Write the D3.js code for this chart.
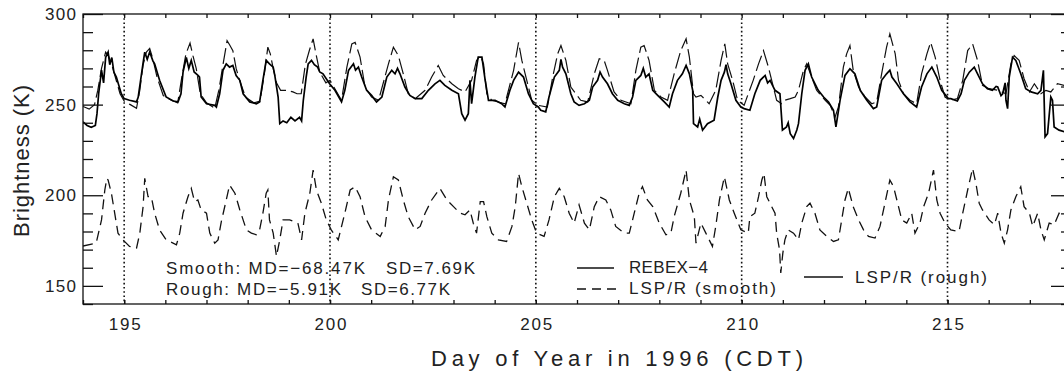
<!DOCTYPE html>
<html>
<head>
<meta charset="utf-8">
<script src="https://cdn.jsdelivr.net/npm/d3@7"></script>
<style>
  body { margin: 0; background: #fff; }
  text { font-family: "Liberation Sans", Arial, sans-serif; fill: #222; }
</style>
</head>
<body>
<div id="chart"></div>
<script>
// REBEX-4 brightness (solid) as [day, K]
const rebexData = [
  [194.00,240.5],[194.10,238.5],[194.20,237.5],[194.30,238.5],[194.34,245],[194.38,256],[194.45,269],[194.50,262],
  [194.55,276],[194.61,279],[194.65,272],[194.70,276],[194.75,268],[194.81,265.2],[194.93,256],[195.00,253.3],
  [195.13,252.4],[195.30,251.5],[195.34,254],[195.46,273],[195.50,278.9],[195.56,275],[195.62,279],[195.70,274],
  [195.74,272.5],[195.86,263.4],[196.02,254.2],[196.19,252.0],[196.31,251.5],[196.38,256],[196.43,267.9],[196.51,276],
  [196.57,270],[196.63,274.4],[196.70,268],[196.80,266],[196.83,265.2],[196.87,254.2],[197.00,250.5],[197.20,249.6],
  [197.24,248.7],[197.32,256],[197.40,268.9],[197.48,272.5],[197.56,270.7],[197.64,271.6],[197.72,266],[197.81,263.4],
  [197.89,256.0],[198.05,251.5],[198.21,250.5],[198.29,251.5],[198.37,263.4],[198.45,274.4],[198.53,272.5],[198.62,270.7],
  [198.66,266],[198.74,254.2],[198.78,239.5],[198.86,241],[198.95,240],[199.05,243],[199.15,241],[199.26,243],
  [199.31,241],[199.35,252],[199.42,265],[199.47,272.5],[199.55,274.4],[199.62,272],[199.70,270.7],[199.75,268],
  [199.83,267.0],[199.99,261.5],[200.12,257.9],[200.28,251.5],[200.36,257.9],[200.45,268.9],[200.57,272.5],[200.62,269],
  [200.69,270.7],[200.77,265.2],[200.89,257.9],[201.01,255.1],[201.13,251.5],[201.26,254.2],[201.38,265.2],[201.50,268.9],
  [201.58,267.0],[201.64,270],[201.70,267.0],[201.82,259.7],[201.94,255.1],[202.07,253.3],[202.23,253.3],[202.39,257.9],
  [202.55,261.5],[202.67,263.4],[202.79,260.6],[202.96,257.9],[203.12,256.0],[203.20,245.0],[203.28,241.4],[203.36,245.0],
  [203.40,263.4],[203.44,250.5],[203.52,265.2],[203.60,276.2],[203.69,276.2],[203.77,263.4],[203.85,252.4],[204.01,252.4],
  [204.17,250.5],[204.25,248.7],[204.37,257.9],[204.46,263.4],[204.58,267.9],[204.70,265.2],[204.82,256.0],[204.94,250.5],
  [205.06,248.7],[205.12,246.9],[205.24,246.0],[205.32,254.2],[205.45,265.2],[205.57,268.9],[205.61,275],[205.65,270.7],
  [205.73,267.0],[205.85,256.0],[205.93,251.5],[206.05,249.6],[206.18,250.5],[206.30,252.4],[206.38,259.7],[206.50,263.4],
  [206.56,268],[206.62,265.2],[206.74,261.5],[206.86,256.0],[206.99,252.4],[207.15,250.5],[207.27,249.6],[207.35,254.2],
  [207.43,263.4],[207.55,266.1],[207.61,270],[207.67,265.2],[207.75,267.0],[207.84,257.9],[207.96,255.1],[208.12,251.5],
  [208.24,248.7],[208.32,256.0],[208.44,263.4],[208.56,267.0],[208.65,271.6],[208.73,267.0],[208.81,257.9],[208.83,239.5],
  [208.93,237.7],[208.98,242],[209.05,235.9],[209.17,239.5],[209.33,241.4],[209.42,254.2],[209.50,263.4],[209.58,267.9],
  [209.62,272],[209.66,267.0],[209.74,261.5],[209.86,252.4],[209.98,248.7],[210.06,247.8],[210.20,246.9],[210.32,256.0],
  [210.45,263.4],[210.57,266.1],[210.63,262],[210.69,263.4],[210.81,257.9],[210.93,256.0],[210.99,235.9],[211.09,237.7],
  [211.13,240],[211.18,234.0],[211.26,231.3],[211.34,236],[211.38,239.5],[211.46,256.0],[211.54,268.9],[211.62,272.5],
  [211.70,265.2],[211.86,257.9],[211.99,254.2],[212.11,251.5],[212.23,246.9],[212.29,237.7],[212.39,252.4],[212.51,266.1],
  [212.63,269.8],[212.75,267.0],[212.88,257.9],[213.04,252.4],[213.20,247.8],[213.28,248.7],[213.40,263.4],[213.52,267.0],
  [213.60,269],[213.65,265.2],[213.77,261.5],[213.93,256.0],[214.09,251.5],[214.25,248.7],[214.37,259.7],[214.50,267.0],
  [214.62,270.7],[214.74,265.2],[214.86,257.9],[215.02,253.3],[215.08,253.3],[215.24,252.0],[215.33,256.0],[215.41,263.4],
  [215.53,267.9],[215.65,270.7],[215.73,267.0],[215.85,261.5],[215.97,258.8],[216.09,257.9],[216.18,260],[216.22,259.7],
  [216.30,255],[216.34,256.0],[216.40,262],[216.42,252.4],[216.46,247.8],[216.50,265.2],[216.58,276.2],[216.66,274.4],
  [216.78,267.0],[216.90,258.8],[217.03,257.0],[217.19,256.0],[217.27,257.9],[217.33,268.9],[217.37,232.2],[217.43,234.0],
  [217.51,254.2],[217.55,252.4],[217.59,237.7],[217.71,235.9],[217.84,235.0],[218.00,236]
];

// LSP/R rough-surface model (upper dashed)
const roughData = [
  [194.00,249],[194.15,247.5],[194.28,250],[194.36,258],[194.45,270],[194.55,279],[194.62,277],[194.70,272],
  [194.80,264],[194.90,256],[195.00,252],[195.15,250],[195.30,248],[195.38,258],[195.46,272],[195.54,279],
  [195.62,281],[195.70,275],[195.80,265],[195.95,255],[196.10,253],[196.30,251],[196.40,265],[196.50,278],
  [196.60,284],[196.67,277],[196.75,270],[196.85,256],[197.00,251],[197.20,248],[197.30,258],[197.40,272],
  [197.50,285.3],[197.56,283],[197.64,279.8],[197.72,270],[197.81,263],[197.95,254],[198.15,251],[198.30,252],
  [198.40,266],[198.49,281.7],[198.55,278],[198.62,270],[198.70,262],[198.80,257.9],[198.95,257.9],[199.10,257],
  [199.20,256],[199.30,256],[199.40,272],[199.50,280],[199.59,286.3],[199.65,279],[199.75,268],[199.90,262],
  [200.00,263.4],[200.28,252.4],[200.41,270.7],[200.53,283.5],[200.61,284.4],[200.73,276.2],[200.85,259.7],[201.01,254.2],
  [201.18,252.4],[201.42,272.5],[201.54,281.7],[201.66,277.1],[201.78,267.0],[201.90,256.0],[202.07,253.3],[202.31,257.9],
  [202.47,265.2],[202.63,271.6],[202.75,266.1],[202.96,261.5],[203.12,258.8],[203.28,257.0],[203.44,263.4],[203.56,274.4],
  [203.65,277.1],[203.73,272.5],[203.81,256.0],[203.93,252.4],[204.25,250.5],[204.46,268.9],[204.58,284.4],[204.66,274.4],
  [204.78,263.4],[204.90,252.4],[205.06,249.6],[205.28,248.7],[205.41,265.2],[205.53,278.0],[205.61,282.6],[205.73,274.4],
  [205.85,259.7],[205.97,256.0],[206.09,252.4],[206.26,251.5],[206.42,267.0],[206.54,275.3],[206.66,274.4],[206.74,268.9],
  [206.90,257.0],[207.07,252.4],[207.31,250.5],[207.43,268.9],[207.55,281.7],[207.63,282.6],[207.75,274.4],[207.88,257.9],
  [208.04,254.2],[208.20,252.4],[208.36,267.0],[208.52,279.8],[208.65,286.3],[208.73,276.2],[208.83,256.0],[208.89,254.2],
  [209.01,255.1],[209.13,252.4],[209.21,250.5],[209.37,257.9],[209.50,274.4],[209.59,283.5],[209.66,272.5],[209.78,263.4],
  [209.90,252.4],[210.06,249.6],[210.16,256.0],[210.28,263.4],[210.41,272.5],[210.53,279.8],[210.65,270.7],[210.77,259.7],
  [210.85,252.4],[210.97,250.5],[211.05,252.4],[211.18,253.3],[211.30,254.2],[211.38,257.9],[211.50,268.9],[211.58,272.5],
  [211.70,265.2],[211.82,257.9],[212.03,252.4],[212.15,249.6],[212.27,243.2],[212.35,248.7],[212.47,270.7],[212.55,278.0],
  [212.63,282.6],[212.71,268.9],[212.84,259.7],[213.00,254.2],[213.16,250.5],[213.28,251.5],[213.40,267.0],[213.52,281.7],
  [213.60,289.0],[213.73,278.0],[213.81,263.4],[213.93,256.0],[214.09,252.4],[214.25,250.5],[214.37,267.0],[214.50,278.0],
  [214.59,284.4],[214.70,276.2],[214.82,263.4],[214.94,254.2],[215.06,252.4],[215.24,253.3],[215.37,263.4],[215.49,279.8],
  [215.61,283.5],[215.73,274.4],[215.85,260.6],[216.01,258.8],[216.22,257.9],[216.42,256.0],[216.54,272.5],[216.62,277.1],
  [216.74,274.4],[216.86,264.3],[216.99,257.0],[217.11,261.5],[217.27,256.0],[217.39,257.9],[217.51,257.0],[217.67,261.5],
  [217.84,260.6],[218.00,260]
];

// LSP/R smooth-surface model (lower dashed)
const smoothData = [
  [194.00,172],[194.32,173.6],[194.45,186.4],[194.53,202.9],[194.58,209.3],[194.61,208.4],[194.69,201.1],[194.77,190.1],
  [194.85,179.1],[194.97,175.4],[195.13,171.8],[195.30,170.8],[195.38,179.1],[195.46,193.7],[195.50,209.3],[195.58,199.2],
  [195.66,199.2],[195.74,190.1],[195.86,180.9],[196.02,175.4],[196.27,172.7],[196.35,179.1],[196.43,190.1],[196.55,199.2],
  [196.63,203.8],[196.71,196.5],[196.79,197.4],[196.87,191.9],[197.00,190.1],[197.08,179.1],[197.20,173.6],[197.28,175.4],
  [197.36,185.5],[197.48,197.4],[197.56,205.6],[197.69,201.1],[197.81,191.9],[197.97,180.9],[198.09,179.1],[198.21,178.2],
  [198.29,180.9],[198.37,190.1],[198.45,201.1],[198.49,202.9],[198.53,186.4],[198.62,179.1],[198.70,166.3],[198.78,175.4],
  [198.86,186.4],[199.02,186.4],[199.22,184.6],[199.31,175.4],[199.39,190.1],[199.51,201.1],[199.59,213.9],[199.67,202.9],
  [199.79,195.6],[199.91,186.4],[200.03,180.9],[200.20,175.4],[200.36,190.1],[200.49,202.9],[200.61,204.7],[200.73,199.2],
  [200.85,188.2],[201.01,180.9],[201.22,177.3],[201.34,182.8],[201.42,197.4],[201.54,210.2],[201.66,208.4],[201.78,197.4],
  [201.90,188.2],[202.07,180.9],[202.19,182.8],[202.31,190.1],[202.47,197.4],[202.67,203.8],[202.84,197.4],[203.00,193.7],
  [203.16,190.1],[203.28,189.2],[203.40,191.9],[203.48,184.6],[203.56,179.1],[203.65,196.5],[203.73,196.5],[203.81,188.2],
  [203.93,179.1],[204.09,175.4],[204.29,174.5],[204.42,182.8],[204.50,193.7],[204.58,212.1],[204.66,204.7],[204.78,195.6],
  [204.90,186.4],[205.02,179.1],[205.20,177.3],[205.32,186.4],[205.45,199.2],[205.57,203.8],[205.69,199.2],[205.81,190.1],
  [205.93,184.6],[206.05,194.7],[206.18,184.6],[206.30,180.9],[206.42,193.7],[206.54,199.2],[206.70,197.4],[206.82,191.9],
  [206.94,182.8],[207.15,179.1],[207.27,179.1],[207.39,190.1],[207.51,201.1],[207.59,204.7],[207.71,197.4],[207.84,193.7],
  [208.00,184.6],[208.16,178.2],[208.28,179.1],[208.36,188.2],[208.52,201.1],[208.65,213.9],[208.73,197.4],[208.85,188.2],
  [208.89,173.6],[209.01,184.6],[209.13,179.1],[209.29,171.8],[209.37,182.8],[209.46,197.4],[209.58,210.2],[209.70,197.4],
  [209.82,190.1],[209.98,180.9],[210.16,179.1],[210.20,188.2],[210.32,190.1],[210.41,199.2],[210.49,208.4],[210.54,212.1],
  [210.61,199.2],[210.73,193.7],[210.81,190.1],[210.85,179.1],[210.92,169.9],[210.95,157.1],[211.00,168.1],[211.05,175.4],
  [211.13,180.9],[211.26,179.1],[211.38,175.4],[211.46,184.6],[211.58,193.7],[211.66,195.6],[211.78,190.1],[211.90,180.9],
  [212.07,177.3],[212.23,174.5],[212.35,175.4],[212.43,186.4],[212.51,197.4],[212.59,203.8],[212.71,193.7],[212.84,186.4],
  [212.96,180.9],[213.08,177.3],[213.24,176.4],[213.36,182.8],[213.48,195.6],[213.60,208.4],[213.69,204.7],[213.81,193.7],
  [213.89,186.4],[214.01,184.6],[214.13,190.1],[214.21,179.1],[214.33,184.6],[214.42,193.7],[214.54,201.1],[214.66,213.9],
  [214.74,197.4],[214.82,190.1],[214.94,184.6],[215.08,180.9],[215.28,180.0],[215.37,190.1],[215.49,202.9],[215.61,214.8],
  [215.69,206.6],[215.77,195.6],[215.85,191.9],[216.01,186.4],[216.14,183.7],[216.22,190.1],[216.30,179.1],[216.38,173.6],
  [216.46,180.9],[216.54,191.9],[216.66,199.2],[216.78,204.7],[216.86,193.7],[216.99,190.1],[217.07,182.8],[217.19,190.1],
  [217.27,180.9],[217.35,175.4],[217.47,184.6],[217.59,183.7],[217.71,190.1],[217.84,188.2],[218.00,189]
];

const dayTicks = [195, 200, 205, 210, 215];
const kTicks = [150, 200, 250, 300];
const statLines = [
  ["Smooth: MD=\u221268.47K", "SD=7.69K"],
  ["Rough: MD=\u22125.91K", "SD=6.77K"]
];

const width = 1064, height = 371;
const x = d3.scaleLinear().domain([194, 218]).range([83, 1071]);
const y = d3.scaleLinear().domain([140, 300]).range([304, 14]);

const svg = d3.select("#chart").append("svg")
  .attr("width", width).attr("height", height);

svg.append("defs").append("clipPath").attr("id", "plotClip")
  .append("rect").attr("x", 83).attr("y", 14).attr("width", 988).attr("height", 290);

// vertical dotted markers every 5 days
svg.append("g").selectAll("line").data(dayTicks).enter().append("line")
  .attr("x1", d => x(d)).attr("x2", d => x(d))
  .attr("y1", y(300)).attr("y2", y(140))
  .attr("stroke", "#111").attr("stroke-width", 1.6)
  .attr("stroke-dasharray", "1.6,2.6");

const line = d3.line().x(d => x(d[0])).y(d => y(d[1]));
const plot = svg.append("g").attr("clip-path", "url(#plotClip)");

plot.append("path").datum(smoothData)
  .attr("d", line).attr("fill", "none")
  .attr("stroke", "#111").attr("stroke-width", 1.3)
  .attr("stroke-dasharray", "10,6");

plot.append("path").datum(roughData)
  .attr("d", line).attr("fill", "none")
  .attr("stroke", "#111").attr("stroke-width", 1.2)
  .attr("stroke-dasharray", "16,5");

plot.append("path").datum(rebexData)
  .attr("d", line).attr("fill", "none")
  .attr("stroke", "#000").attr("stroke-width", 1.7);

// axes: ticks point inward, frame drawn separately
function styleAxis(g) {
  g.select(".domain").remove();
  g.selectAll(".tick line").attr("stroke", "#111").attr("stroke-width", 1.3);
}
const minorK = d3.range(140, 301, 10).filter(v => v % 50 !== 0);
const minorDay = d3.range(194, 219, 1);

svg.append("g").attr("transform", "translate(83,0)")
  .call(d3.axisLeft(y).tickValues(kTicks).tickSize(-20).tickPadding(7).tickFormat(d3.format("d")))
  .call(styleAxis)
  .selectAll("text").attr("font-size", 17).attr("textLength", 31).attr("lengthAdjust", "spacing")
  .style("font-family", "Liberation Sans, Arial, sans-serif").attr("fill", "#222");
svg.append("g").attr("transform", "translate(83,0)")
  .call(d3.axisLeft(y).tickValues(minorK).tickSize(-10).tickFormat(""))
  .call(styleAxis);
svg.append("g").attr("transform", "translate(1071,0)")
  .call(d3.axisRight(y).tickValues(kTicks).tickSize(-20).tickFormat(""))
  .call(styleAxis);
svg.append("g").attr("transform", "translate(1071,0)")
  .call(d3.axisRight(y).tickValues(minorK).tickSize(-10).tickFormat(""))
  .call(styleAxis);

svg.append("g").attr("transform", "translate(0,304)")
  .call(d3.axisBottom(x).tickValues(minorDay).tickSize(-4).tickFormat(""))
  .call(styleAxis);
svg.append("g").attr("transform", "translate(0,304)")
  .call(d3.axisBottom(x).tickValues(dayTicks).tickSize(-4).tickPadding(14).tickFormat(d3.format("d")))
  .call(styleAxis)
  .selectAll("text").attr("font-size", 17).attr("textLength", 32).attr("lengthAdjust", "spacing")
  .style("font-family", "Liberation Sans, Arial, sans-serif").attr("fill", "#222");
svg.append("g").attr("transform", "translate(0,14)")
  .call(d3.axisTop(x).tickValues(minorDay).tickSize(-4).tickFormat(""))
  .call(styleAxis);

// frame
svg.append("rect").attr("x", 83).attr("y", 14).attr("width", 988).attr("height", 290)
  .attr("fill", "none").attr("stroke", "#111").attr("stroke-width", 1.3);

// axis titles
svg.append("text").attr("x", 431).attr("y", 366)
  .attr("font-size", 22).attr("textLength", 372).attr("lengthAdjust", "spacing")
  .text("Day of Year in 1996 (CDT)");
svg.append("text").attr("transform", "translate(29,237) rotate(-90)")
  .attr("font-size", 22).attr("textLength", 152).attr("lengthAdjust", "spacing")
  .text("Brightness (K)");

// statistics
const statX = [[166, 199], [386, 89]];
const statRoughX = [[166, 175], [361, 89]];
[[statLines[0], statX, 274], [statLines[1], statRoughX, 295]].forEach(([txt, pos, by]) => {
  txt.forEach((t, i) => {
    svg.append("text").attr("x", pos[i][0]).attr("y", by)
      .attr("font-size", 17).attr("textLength", pos[i][1]).attr("lengthAdjust", "spacing")
      .text(t);
  });
});

// legend
const legend = [
  {label: "REBEX\u22124", x0: 577, x1: 614, ly: 268, tx: 629, ty: 273, tw: 79, dash: null},
  {label: "LSP/R (smooth)", x0: 577, x1: 617, ly: 289, tx: 629, ty: 294, tw: 147, dash: "9,6"},
  {label: "LSP/R (rough)", x0: 804, x1: 843, ly: 277, tx: 855, ty: 283, tw: 132, dash: null}
];
legend.forEach(d => {
  svg.append("line").attr("x1", d.x0).attr("x2", d.x1).attr("y1", d.ly).attr("y2", d.ly)
    .attr("stroke", "#111").attr("stroke-width", 1.3)
    .attr("stroke-dasharray", d.dash);
  svg.append("text").attr("x", d.tx).attr("y", d.ty)
    .attr("font-size", 17).attr("textLength", d.tw).attr("lengthAdjust", "spacing")
    .text(d.label);
});
</script>
</body>
</html>
